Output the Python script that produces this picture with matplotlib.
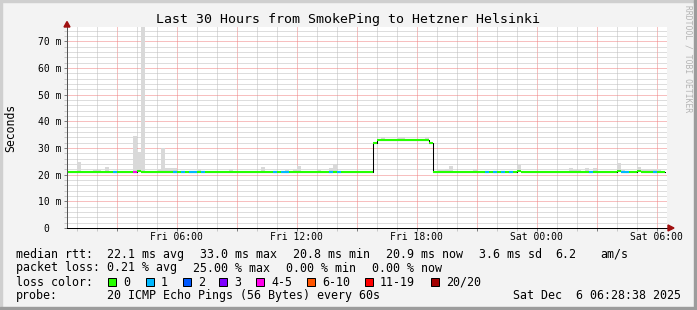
import matplotlib
matplotlib.use("Agg")
import matplotlib.pyplot as plt  # noqa: E402
from matplotlib.patches import Polygon, Rectangle  # noqa: E402
from matplotlib.ticker import FixedLocator, MultipleLocator  # noqa: E402

W, H = 697, 310
MONO = "DejaVu Sans Mono"

# hours since Fri 00:00 (graph covers the 30 h before Sat 06:28:38)
t_start = 0.515
t_end = 30.515
bin_hours = 0.2  # 12 minute consolidation steps

# median rtt in ms as (start, end, value) steps
median_steps = [
    (0.4, 4.0, 20.9), (4.0, 4.2, 21.3), (4.2, 15.8, 20.9),
    (15.8, 16.0, 31.7), (16.0, 18.6, 33.0), (18.6, 18.8, 31.7),
    (18.8, 23.0, 20.9), (23.0, 23.2, 21.3), (23.2, 28.0, 20.9),
    (28.0, 28.2, 21.4), (28.2, 29.0, 20.9), (29.0, 29.2, 21.4),
    (29.2, 30.4, 20.9),
]

# bins with lost pings (start hour of 12 min bin)
loss_1_bins = [2.8, 5.8, 6.2, 6.6, 6.8, 7.2, 10.8, 11.2, 11.4, 13.6, 14.0,
               21.4, 21.8, 22.2, 22.6, 26.6, 28.2, 28.4, 29.8]
loss_4_5_bins = [3.8]

# smoke: top of the ping spread for each bin (ms)
smoke_bins = [1.0, 1.8, 2.0, 2.4, 3.8, 4.0, 4.2, 5.0, 5.2, 5.4, 5.6, 5.8,
              7.0, 7.6, 8.6, 9.4, 10.2, 11.4, 11.8, 12.0, 13.0, 13.6, 13.8,
              14.8, 16.2, 17.0, 17.2, 18.4, 19.0, 19.2, 19.4, 19.6, 20.8,
              23.0, 24.4, 25.6, 25.8, 26.0, 26.4, 26.8, 28.0, 28.2, 29.0,
              29.2, 29.4, 29.6, 29.8, 30.0]
smoke_tops = [24.9, 21.9, 21.9, 22.9, 34.6, 28.6, 76.0, 22.0, 30.1, 22.5,
              22.5, 22.5, 22.2, 21.3, 22.0, 21.3, 22.9, 21.8, 22.0, 23.3,
              21.8, 22.5, 24.0, 21.3, 34.3, 34.1, 34.1, 34.3, 21.8, 21.8,
              22.3, 23.3, 22.0, 23.8, 21.3, 22.6, 21.8, 21.8, 22.6, 22.4,
              24.4, 21.8, 22.9, 22.2, 22.2, 22.2, 22.2, 22.2]

y_ticks = [0, 10, 20, 30, 40, 50, 60, 70]
y_labels = ["0  ", "10 m", "20 m", "30 m", "40 m", "50 m", "60 m", "70 m"]
x_label_hours = [6, 12, 18, 24, 30]
x_labels = ["Fri 06:00", "Fri 12:00", "Fri 18:00", "Sat 00:00", "Sat 06:00"]

loss_names = ["0", "1", "2", "3", "4-5", "6-10", "11-19", "20/20"]
loss_colors = ["#26ff00", "#00b8ff", "#0059ff", "#7e00ff", "#ff00ea",
               "#ff5500", "#ff0000", "#a10000"]

title = "Last 30 Hours from SmokePing to Hetzner Helsinki"
rtt_items = ["median rtt:", "22.1 ms avg", "33.0 ms max", "20.8 ms min",
             "20.9 ms now", "3.6 ms sd", "6.2", "am/s"]
loss_items = ["packet loss:", "0.21 % avg", "25.00 % max", "0.00 % min",
              "0.00 % now"]
probe_text = "20 ICMP Echo Pings (56 Bytes) every 60s"
stamp_text = "Sat Dec  6 06:28:38 2025"


def fx(x: float) -> float:
    return x / W


def fy(y: float) -> float:
    return 1 - y / H


def median_at(t: float) -> float:
    for start, end, value in median_steps:
        if start <= t < end:
            return value
    return median_steps[-1][2]


def draw_frame(fig) -> None:
    fig.patches.append(Rectangle((0, 0), 1, 1, transform=fig.transFigure,
                                 color="#f3f3f3", zorder=-10))
    for x0, y0, w, h, c in [(0, 0, W, 2, "#cfcfcf"), (0, 0, 2, H, "#cfcfcf"),
                            (0, H - 3, W, 3, "#9c9c9c"),
                            (W - 3, 0, 3, H, "#9c9c9c")]:
        fig.patches.append(Rectangle((fx(x0), fy(y0 + h)), w / W, h / H,
                                     transform=fig.transFigure, color=c,
                                     zorder=-9))


def draw_plot(ax) -> None:
    ax.set_facecolor("white")
    bottoms = [median_at(b) - 0.4 for b in smoke_bins]
    ax.bar(smoke_bins, [t - b for t, b in zip(smoke_tops, bottoms)],
           bottom=bottoms, width=bin_hours, align="edge",
           color="#d9d9d9", linewidth=0, zorder=2)

    xs = [s for s, _, _ in median_steps] + [median_steps[-1][1]]
    ys = [v for _, _, v in median_steps] + [median_steps[-1][2]]
    ax.step(xs, ys, where="post", color="black", lw=0.75, zorder=3)
    for start, end, value in median_steps:
        ax.hlines(value, start, end, colors=loss_colors[0], lw=1.5,
                  zorder=4, capstyle="butt")
    for bins, color in [(loss_1_bins, loss_colors[1]),
                        (loss_4_5_bins, loss_colors[4])]:
        for b in bins:
            ax.hlines(median_at(b), b, b + bin_hours, colors=color, lw=1.5,
                      zorder=5, capstyle="butt")

    ax.set_ylim(0, 75.4)
    major_x = list(range(3, 31, 3))
    ax.xaxis.set_major_locator(FixedLocator(major_x))
    ax.xaxis.set_minor_locator(MultipleLocator(1))
    ax.yaxis.set_major_locator(FixedLocator(y_ticks))
    ax.yaxis.set_minor_locator(MultipleLocator(2))
    ax.set_yticklabels(y_labels, family=MONO, fontsize=7)
    ax.set_xticklabels([x_labels[x_label_hours.index(t)]
                        if t in x_label_hours else "" for t in major_x],
                       family=MONO, fontsize=7)
    ax.set_xlim(t_start, t_end)

    dots = (0, (1, 1))
    ax.grid(which="minor", color="#bdbdbd", linestyle=dots, lw=0.72,
            zorder=1)
    ax.grid(which="major", color="#f08080", linestyle=dots, lw=0.72,
            zorder=1)
    ax.set_axisbelow(True)
    ax.tick_params(which="major", length=2.2, width=0.72, color="#808080",
                   pad=2)
    ax.tick_params(which="minor", length=2.2, width=0.72, color="#c8c8c8")
    ax.tick_params(axis="x", which="major", pad=1)
    for side in ["top", "right"]:
        ax.spines[side].set_visible(False)
    ax.spines["left"].set_color("#555555")
    ax.spines["bottom"].set_color("black")
    for side in ["left", "bottom"]:
        ax.spines[side].set_linewidth(0.72)
        ax.spines[side].set_zorder(6)


def draw_text(fig) -> None:
    red = "#a01010"
    fig.patches.append(Polygon([(fx(64), fy(27)), (fx(70), fy(27)),
                                (fx(67), fy(21.5))], closed=True,
                               transform=fig.transFigure, color=red))
    fig.patches.append(Polygon([(fx(668), fy(225)), (fx(668), fy(231)),
                                (fx(674), fy(228))], closed=True,
                               transform=fig.transFigure, color=red))

    fig.text(fx(348.5), fy(19), title, family=MONO, fontsize=9.5,
             ha="center", va="center")
    fig.text(fx(11), fy(127.5), "Seconds", family=MONO, fontsize=8.3,
             rotation=90, ha="center", va="center")
    fig.text(fx(688), fy(5), "RRDTOOL / TOBI OETIKER", family=MONO,
             fontsize=5.8, rotation=270, ha="center", va="top",
             color="#b4b4b4")

    size = 8.4
    rtt_x = [16, 107.3, 200, 293.3, 386, 479.3, 555.6, 600]
    for item, x in zip(rtt_items, rtt_x):
        fig.text(fx(x), fy(254.3), item, family=MONO, fontsize=size,
                 va="center")
    loss_x = [16, 107.3, 193.5, 286, 372.3]
    for item, x in zip(loss_items, loss_x):
        fig.text(fx(x), fy(268), item, family=MONO, fontsize=size,
                 va="center")

    fig.text(fx(16), fy(282), "loss color:", family=MONO, fontsize=size,
             va="center")
    box_x = [108.3, 145.7, 182.7, 219.3, 256, 307.3, 365, 430.7]
    for name, color, x in zip(loss_names, loss_colors, box_x):
        fig.patches.append(Rectangle((fx(x), fy(286)), 8 / W, 8 / H,
                                     transform=fig.transFigure,
                                     facecolor=color, edgecolor="black",
                                     lw=0.72))
        fig.text(fx(x + 15), fy(282), name, family=MONO, fontsize=size,
                 va="center")

    fig.text(fx(16), fy(295.7), "probe:", family=MONO, fontsize=size,
             va="center")
    fig.text(fx(107.3), fy(295.7), probe_text, family=MONO, fontsize=size,
             va="center")
    fig.text(fx(681), fy(295.7), stamp_text, family=MONO, fontsize=size,
             va="center", ha="right")


def main() -> None:
    fig = plt.figure(figsize=(W / 100, H / 100), dpi=100)
    draw_frame(fig)
    ax = fig.add_axes([fx(67), fy(228), 600 / W, (228 - 27) / H])
    draw_plot(ax)
    draw_text(fig)
    fig.savefig("out.png", dpi=100)


if __name__ == "__main__":
    main()
